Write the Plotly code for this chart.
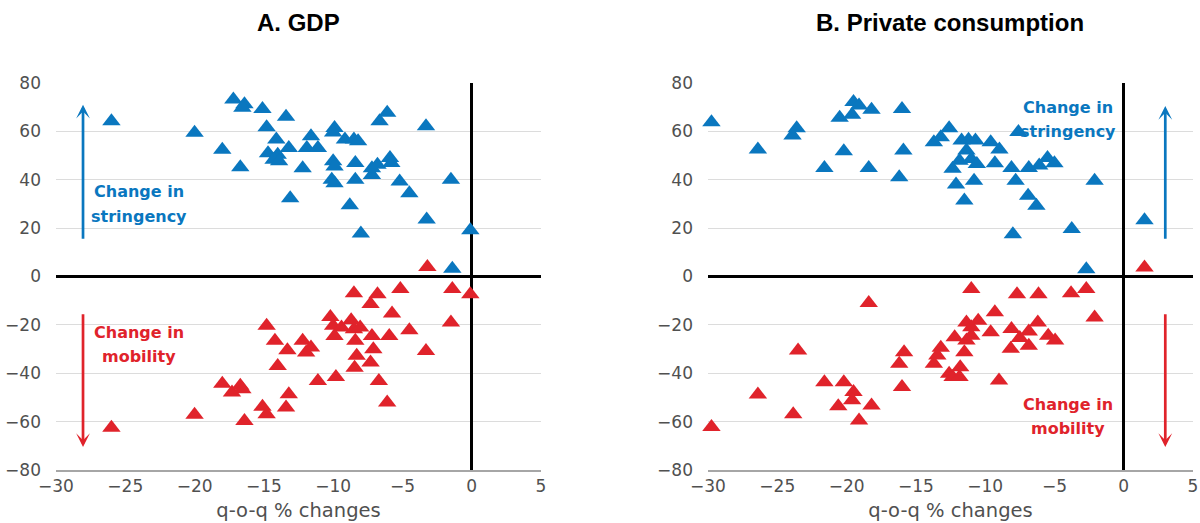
import plotly.graph_objects as go

# ---------------- data ----------------
gdp_str_x = [-26.0, -20.0, -18.0, -16.7, -17.2, -16.4, -16.55, -15.1, -13.4, -14.8, -14.1, -14.7, -14.0, -14.3,
             -13.9, -13.2, -13.1, -12.2, -11.6, -11.9, -11.1, -9.9, -10.0, -9.15, -8.5, -8.2, -10.0, -9.9, -10.1,
             -9.9, -8.4, -8.4, -8.8, -8.0, -7.2, -7.2, -6.8, -6.65, -6.1, -5.9, -5.8, -5.2, -4.5, -3.3, -3.25,
             -1.5, -0.1, -1.4]
gdp_str_y = [64.2, 59.4, 52.4, 45.2, 73.2, 71.2, 69.8, 69.3, 66.0, 61.7, 56.6, 51.0, 50.3, 48.3,
             47.6, 53.1, 32.3, 44.8, 58.0, 53.1, 53.1, 61.4, 59.5, 56.6, 56.6, 55.9, 47.6, 45.5, 40.0,
             38.6, 46.9, 40.0, 29.5, 17.8, 42.0, 44.8, 46.2, 64.2, 67.7, 49.0, 46.9, 39.3, 34.4, 62.1, 23.6,
             40.0, 19.1, 3.2]

gdp_mob_x = [-26.0, -20.0, -18.0, -17.3, -16.7, -16.55, -16.4, -15.1, -14.8, -14.8, -14.2, -14.0, -13.3, -13.2,
             -13.4, -12.2, -11.95, -11.6, -11.1, -10.2, -10.0, -9.9, -9.8, -9.4, -8.7, -8.5, -8.4, -8.3, -8.45,
             -8.5, -8.05, -7.2, -7.1, -7.3, -6.8, -7.3, -6.7, -6.1, -5.95, -5.75, -5.15, -4.5, -3.3, -1.4, -1.5,
             -0.1, -3.2]
gdp_mob_y = [-62.5, -57.2, -44.3, -48.0, -45.2, -46.6, -59.7, -53.8, -57.0, -20.4, -26.6, -37.0, -30.5, -48.7,
             -54.2, -26.6, -31.4, -29.4, -43.2, -16.7, -20.4, -24.6, -41.5, -21.1, -18.1, -21.8, -26.6, -32.8, -37.7,
             -6.9, -21.1, -24.6, -30.1, -11.4, -7.3, -35.6, -43.2, -52.1, -24.6, -15.3, -5.2, -22.2, -30.8, -5.2, -19.0,
             -7.3, 3.9]

con_str_x = [-29.75, -26.4, -23.9, -23.6, -21.6, -20.5, -20.2, -19.6, -19.5, -19.1, -18.2, -18.4, -16.2, -16.0,
             -15.9, -13.7, -13.2, -12.6, -12.1, -11.5, -10.8, -12.35, -11.85, -11.7, -11.35, -11.0, -10.6, -10.7,
             -11.2, -9.6, -8.97, -9.3, -8.1, -7.8, -7.6, -6.9, -6.3, -6.85, -6.1, -5.5, -5.0, -8.0, -3.75, -2.1,
             -2.7, 1.5]
con_str_y = [63.8, 52.5, 58.3, 61.3, 44.9, 65.6, 51.8, 66.9, 72.1, 70.7, 68.9, 44.9, 41.0, 69.3,
             52.1, 55.5, 57.6, 61.3, 38.0, 31.4, 39.6, 44.5, 47.9, 56.2, 52.1, 48.6, 46.5, 56.2,
             56.5, 55.5, 52.5, 46.8, 44.9, 39.6, 59.7, 33.4, 29.3, 44.9, 45.9, 49.0, 46.8, 17.5, 19.6, 39.6,
             3.0, 23.3]

con_mob_x = [-29.75, -26.4, -23.85, -23.5, -21.6, -20.6, -20.2, -19.5, -19.6, -19.1, -18.2, -18.4, -16.2, -15.85,
             -16.0, -13.7, -13.2, -13.45, -12.6, -12.2, -12.35, -11.85, -11.8, -11.5, -11.35, -11.35, -11.0, -11.0,
             -10.5, -11.0, -9.6, -9.3, -9.0, -8.1, -8.15, -7.7, -7.5, -6.85, -6.85, -6.2, -6.15, -5.45, -4.95,
             -3.8, -2.7, -2.1, 1.5]
con_mob_y = [-62.2, -48.8, -57.0, -30.6, -43.7, -53.6, -43.7, -47.8, -51.2, -59.5, -53.3, -11.0, -36.1, -31.3,
             -45.7, -36.1, -29.5, -32.7, -40.2, -25.1, -41.6, -41.6, -37.5, -31.3, -26.5, -19.0, -21.0, -5.2,
             -18.3, -24.5, -23.1, -14.8, -43.0, -21.7, -29.9, -7.3, -25.4, -22.7, -28.6, -19.0, -7.3, -24.5, -26.5,
             -6.9, -5.2, -16.9, 3.7]

panel_titles = ["A. GDP", "B. Private consumption"]
x_ticks = [-30, -25, -20, -15, -10, -5, 0, 5]
y_ticks = [-80, -60, -40, -20, 0, 20, 40, 60, 80]
x_title = "q-o-q % changes"

BLUE = "#0A77BF"
RED = "#E0232B"
TICK_COLOR = "#505050"
TICK_FONT = "DejaVu Sans, Verdana, sans-serif"
TITLE_FONT = "Liberation Sans, Arial, sans-serif"

fig = go.Figure()

marker_size = 16
for xs, ys, color, xa, ya in [
    (gdp_str_x, gdp_str_y, BLUE, "x", "y"),
    (gdp_mob_x, gdp_mob_y, RED, "x", "y"),
    (con_str_x, con_str_y, BLUE, "x2", "y2"),
    (con_mob_x, con_mob_y, RED, "x2", "y2"),
]:
    fig.add_trace(go.Scatter(
        x=xs, y=ys, mode="markers", xaxis=xa, yaxis=ya, showlegend=False,
        marker=dict(symbol="triangle-up", size=marker_size, color=color, line=dict(width=0)),
        cliponaxis=False, hoverinfo="skip",
    ))

W, H = 1200, 523
T, B = 83, 53
domA = [56 / W, 541 / W]
domB = [708 / W, 1193 / W]

xaxis_common = dict(
    range=[-30, 5], tickvals=x_ticks, showgrid=False, automargin=False,
    zeroline=True, zerolinecolor="black", zerolinewidth=2.5,
    showline=True, linecolor="#A6A6A6", linewidth=2,
    ticks="", tickfont=dict(family=TICK_FONT, size=17, color=TICK_COLOR),
    title=dict(text=x_title, font=dict(family=TICK_FONT, size=19.5, color=TICK_COLOR), standoff=8),
    fixedrange=True,
)
yaxis_common = dict(
    range=[-80, 80], tickvals=y_ticks, showgrid=True, gridcolor="#DCDCDC", gridwidth=1,
    zeroline=True, zerolinecolor="black", zerolinewidth=2.5, automargin=False,
    showline=False, ticks="", ticklabelstandoff=14,
    tickfont=dict(family=TICK_FONT, size=17, color=TICK_COLOR),
    fixedrange=True,
)

fig.update_layout(
    width=W, height=H,
    margin=dict(l=0, r=0, t=T, b=B),
    plot_bgcolor="white", paper_bgcolor="white",
    xaxis=dict(domain=domA, anchor="y", **xaxis_common),
    yaxis=dict(domain=[0, 1], anchor="x", **yaxis_common),
    xaxis2=dict(domain=domB, anchor="y2", **xaxis_common),
    yaxis2=dict(domain=[0, 1], anchor="x2", **yaxis_common),
)

plot_h = H - T - B

def py(p):
    """pixel row -> paper y"""
    return 1 + (T - p) / plot_h

annotations = []
for title, dom in zip(panel_titles, [domA, domB]):
    annotations.append(dict(
        text="<b>%s</b>" % title, x=(dom[0] + dom[1]) / 2, y=py(23), xref="paper", yref="paper",
        showarrow=False, font=dict(family=TITLE_FONT, size=24, color="black"),
        yanchor="middle", xanchor="center",
    ))

def arrow(xref, yref, x, y0, y1, color):
    return dict(x=x, y=y1, ax=x, ay=y0, xref=xref, yref=yref, axref=xref, ayref=yref,
                text="", showarrow=True, arrowhead=3, arrowsize=0.85, arrowwidth=2.7, arrowcolor=color)

def label(xref, yref, x, y, txt, color):
    return dict(x=x, y=y, xref=xref, yref=yref, text="<b>%s</b>" % txt, showarrow=False,
                xanchor="center", yanchor="middle",
                font=dict(family=TICK_FONT, size=16, color=color))

# Panel A
annotations.append(arrow("x", "y", -28.05, 15, 71, BLUE))
annotations.append(arrow("x", "y", -28.05, -15, -70.5, RED))
annotations.append(label("x", "y", -24.0, 35.0, "Change in", BLUE))
annotations.append(label("x", "y", -24.0, 25.0, "stringency", BLUE))
annotations.append(label("x", "y", -24.0, -23.2, "Change in", RED))
annotations.append(label("x", "y", -24.0, -33.2, "mobility", RED))
# Panel B
annotations.append(arrow("x2", "y2", 3.0, 15, 70.5, BLUE))
annotations.append(arrow("x2", "y2", 3.0, -15, -70.5, RED))
annotations.append(label("x2", "y2", -4.0, 70.0, "Change in", BLUE))
annotations.append(label("x2", "y2", -4.0, 60.0, "stringency", BLUE))
annotations.append(label("x2", "y2", -4.0, -52.8, "Change in", RED))
annotations.append(label("x2", "y2", -4.0, -62.8, "mobility", RED))

fig.update_layout(annotations=annotations)

# remove the page's default 8px body margin so the figure fills the window exactly
fig.write_html("out.html", config={"displayModeBar": False},
               post_script="document.body.style.margin='0';")
